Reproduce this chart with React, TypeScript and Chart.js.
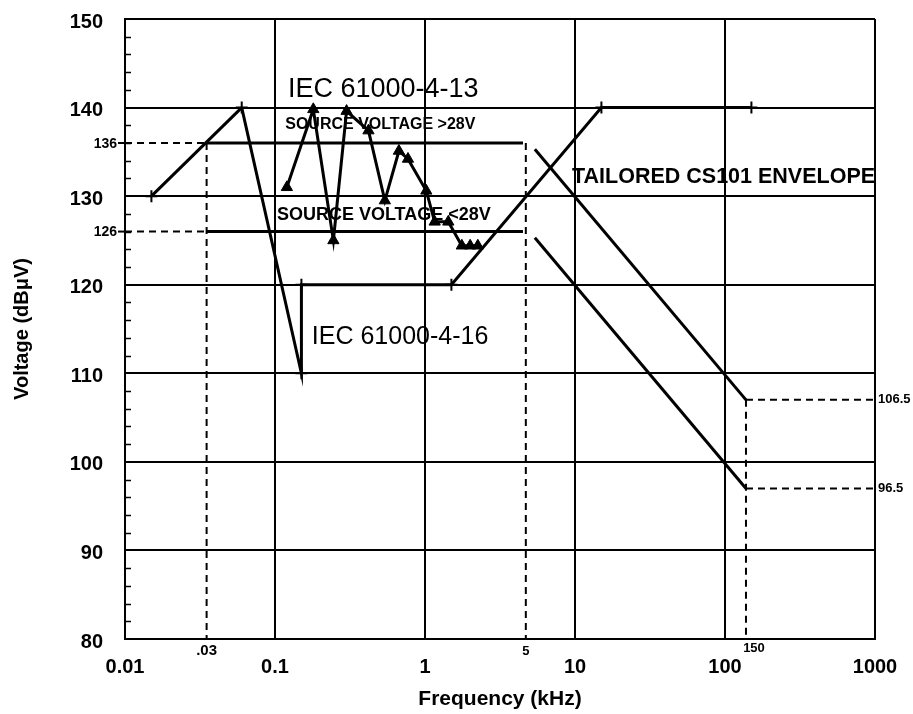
import React, { useEffect, useRef } from 'react';
import { Chart, registerables } from 'chart.js';
Chart.register(...registerables);

const FONT = '"Liberation Sans", Arial, Helvetica, sans-serif';

// axes
const xTickValues = [0.01, 0.1, 1, 10, 100, 1000];
const xTickLabels = ['0.01', '0.1', '1', '10', '100', '1000'];
const yMin = 80;
const yMax = 150;
const yStep = 10;
const yMinorStep = 2;

// IEC 61000-4-13 ramp (from + marker up to 140)
const rampFreq = [0.015, 0.06];
const rampVolt = [130, 140];

// IEC 61000-4-16 / stepped curve
const iec16Freq = [0.06, 0.15, 0.15, 1.5, 15, 150];
const iec16Volt = [140, 110, 120, 120, 140, 140];

// "+" markers
const crossFreq = [0.015, 0.06, 0.15, 0.15, 1.5, 15, 150];
const crossVolt = [130, 140, 110, 120, 120, 140, 140];

// source voltage levels
const levelFreq = [0.035, 4.5];
const levelHigh = [136, 136];
const levelLow = [126, 126];

// harmonic test points (triangles)
const harmFreq = [0.12, 0.18, 0.245, 0.3, 0.42, 0.54, 0.67, 0.77, 1.02, 1.16, 1.43, 1.76, 2.0, 2.25];
const harmVolt = [131, 139.8, 125, 139.6, 137.4, 129.5, 135.1, 134.2, 130.6, 127.1, 127.1, 124.4, 124.4, 124.4];

// tailored CS101 envelope
const cs101Freq = [5.4, 138];
const cs101Upper = [135.3, 107];
const cs101Lower = [125.3, 97];

// dashed reference lines
const refLeftFreq = 0.035;
const refMidFreq = 4.7;
const refRightFreq = 138;
const refHigh = 136;
const refLow = 126;
const refRightHigh = 107;
const refRightLow = 97;

// small reference labels
const refXLabels = ['.03', '5', '150'];
const refXValues = [0.035, 4.7, 138];
const refYLabels = ['136', '126'];
const refYValues = [136, 126];
const refRightLabels = ['106.5', '96.5'];
const refRightValues = [107, 97];

// text annotations (anchor in data units)
const annotTexts = ['IEC 61000-4-13', 'SOURCE VOLTAGE >28V', 'SOURCE VOLTAGE <28V', 'TAILORED CS101 ENVELOPE', 'IEC 61000-4-16'];
const annotFreq = [0.122, 0.117, 0.103, 9.55, 0.176];
const annotVolt = [142.0, 138.1, 127.9, 132.1, 114.1];
const annotSize = [27, 16, 18, 21.5, 25];
const annotWeight = ['normal', 'bold', 'bold', 'bold', 'normal'];

const pts = (xs: number[], ys: number[]) => xs.map((x, i) => ({ x, y: ys[i] }));

const solid = (data: any[], width = 3) => ({
  data,
  showLine: true,
  borderColor: '#000',
  backgroundColor: '#000',
  borderWidth: width,
  pointRadius: 0,
  tension: 0,
});

const dashed = (data: any[]) => ({
  data,
  showLine: true,
  borderColor: '#000',
  borderWidth: 2,
  borderDash: [7, 5],
  pointRadius: 0,
  tension: 0,
});

const annotPlugin = {
  id: 'annotations',
  afterDraw(chart: any) {
    const { ctx, chartArea } = chart;
    const x = chart.scales.x;
    const y = chart.scales.y;
    ctx.save();
    ctx.strokeStyle = '#000';
    ctx.fillStyle = '#000';
    // minor inward ticks on y axis
    ctx.lineWidth = 1.5;
    for (let v = yMin; v <= yMax; v += yMinorStep) {
      if (v % yStep === 0) continue;
      const py = Math.round(y.getPixelForValue(v)) + 0.5;
      ctx.beginPath();
      ctx.moveTo(chartArea.left, py);
      ctx.lineTo(chartArea.left + 6, py);
      ctx.stroke();
    }
    // outward ticks + labels for 136/126
    ctx.lineWidth = 2;
    ctx.font = `bold 14px ${FONT}`;
    ctx.textAlign = 'right';
    ctx.textBaseline = 'middle';
    refYValues.forEach((v, i) => {
      const py = y.getPixelForValue(v);
      ctx.beginPath();
      ctx.moveTo(chartArea.left - 7, py);
      ctx.lineTo(chartArea.left, py);
      ctx.stroke();
      ctx.fillText(refYLabels[i], chartArea.left - 8, py + 1);
    });
    // bottom small labels
    ctx.textAlign = 'center';
    refXValues.forEach((v, i) => {
      const px = x.getPixelForValue(v);
      const big = i === 0;
      ctx.font = `bold ${big ? 15 : 13}px ${FONT}`;
      const dx = i === 2 ? 8 : 0;
      const dy = i === 2 ? 9 : 12;
      ctx.fillText(refXLabels[i], px + dx, chartArea.bottom + dy);
    });
    // right labels
    ctx.font = `bold 13px ${FONT}`;
    ctx.textAlign = 'left';
    refRightValues.forEach((v, i) => {
      ctx.fillText(refRightLabels[i], chartArea.right + 3, y.getPixelForValue(v));
    });
    // annotations
    annotTexts.forEach((t, i) => {
      ctx.font = `${annotWeight[i]} ${annotSize[i]}px ${FONT}`;
      ctx.textAlign = 'left';
      ctx.textBaseline = 'middle';
      ctx.fillText(t, x.getPixelForValue(annotFreq[i]), y.getPixelForValue(annotVolt[i]));
    });
    ctx.restore();
  },
};

export default function App() {
  const ref = useRef<HTMLCanvasElement | null>(null);
  useEffect(() => {
    if (!ref.current) return;
    const chart = new Chart(ref.current, {
      type: 'scatter',
      data: {
        datasets: [
          solid(pts(rampFreq, rampVolt)),
          solid(pts(iec16Freq, iec16Volt)),
          solid(pts(levelFreq, levelHigh)),
          solid(pts(levelFreq, levelLow)),
          {
            ...solid(pts(harmFreq, harmVolt)),
            pointRadius: 6.5,
            pointStyle: 'triangle',
            pointBackgroundColor: '#000',
            pointBorderColor: '#000',
            pointBorderWidth: 1,
          },
          solid(pts(cs101Freq, cs101Upper)),
          solid(pts(cs101Freq, cs101Lower)),
          {
            data: pts(crossFreq, crossVolt),
            showLine: false,
            pointStyle: 'cross',
            pointRadius: 6,
            pointBorderWidth: 2,
            pointBorderColor: '#000',
          },
          dashed([{ x: 0.01, y: refHigh }, { x: refLeftFreq, y: refHigh }]),
          dashed([{ x: 0.01, y: refLow }, { x: refLeftFreq, y: refLow }]),
          dashed([{ x: refLeftFreq, y: refHigh }, { x: refLeftFreq, y: yMin }]),
          dashed([{ x: refMidFreq, y: refHigh }, { x: refMidFreq, y: yMin }]),
          dashed([{ x: refRightFreq, y: refRightHigh }, { x: refRightFreq, y: yMin }]),
          dashed([{ x: refRightFreq, y: refRightHigh }, { x: 1000, y: refRightHigh }]),
          dashed([{ x: refRightFreq, y: refRightLow }, { x: 1000, y: refRightLow }]),
        ] as any,
      },
      options: {
        responsive: false,
        animation: false,
        devicePixelRatio: 1,
        layout: { padding: { top: 19, right: 38, left: 0, bottom: 0 } },
        plugins: { legend: { display: false }, tooltip: { enabled: false } },
        scales: {
          x: {
            type: 'logarithmic',
            min: 0.01,
            max: 1000,
            afterBuildTicks: (scale: any) => {
              scale.ticks = xTickValues.map((v) => ({ value: v }));
            },
            afterFit: (scale: any) => {
              scale.height = 75;
              scale.paddingLeft = 0;
              scale.paddingRight = 0;
            },
            ticks: {
              autoSkip: false,
              maxRotation: 0,
              padding: 16,
              color: '#000',
              font: { family: FONT, size: 20, weight: 'bold' },
              callback: (v: any) => {
                const i = xTickValues.indexOf(Number(v));
                return i >= 0 ? xTickLabels[i] : '';
              },
            },
            grid: { color: '#000', lineWidth: 2, drawTicks: false },
            border: { display: true, color: '#000', width: 2 },
            title: {
              display: true,
              text: 'Frequency (kHz)',
              color: '#000',
              font: { family: FONT, size: 21, weight: 'bold' },
              padding: { top: 0, bottom: 2 },
            },
          },
          y: {
            type: 'linear',
            min: yMin,
            max: yMax,
            afterFit: (scale: any) => {
              scale.width = 125;
              scale.paddingTop = 0;
              scale.paddingBottom = 0;
            },
            ticks: {
              stepSize: yStep,
              padding: 22,
              labelOffset: 3,
              color: '#000',
              font: { family: FONT, size: 20, weight: 'bold' },
            },
            grid: { color: '#000', lineWidth: 2, drawTicks: false },
            border: { display: true, color: '#000', width: 2 },
            title: {
              display: true,
              text: 'Voltage (dBμV)',
              color: '#000',
              font: { family: FONT, size: 20, weight: 'bold' },
              padding: { top: 10, bottom: 0 },
            },
          },
        },
      } as any,
      plugins: [annotPlugin],
    });
    return () => chart.destroy();
  }, []);
  return (
    <div style={{ position: 'absolute', left: 0, top: 0, width: 913, height: 714, background: '#fff' }}>
      <canvas ref={ref} width={913} height={714} style={{ display: 'block' }} />
    </div>
  );
}
